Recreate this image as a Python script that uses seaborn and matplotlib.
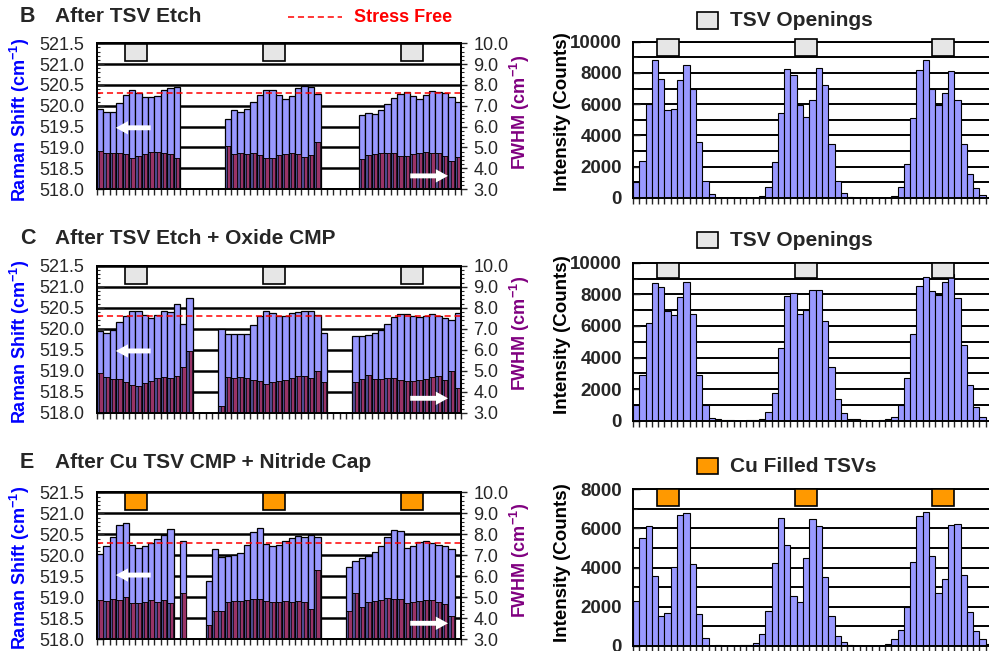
import numpy as np
import pandas as pd
import matplotlib
matplotlib.use("Agg")
import matplotlib.pyplot as plt
from matplotlib.patches import Rectangle
from matplotlib.lines import Line2D
from matplotlib.ticker import MultipleLocator, FormatStrFormatter
import seaborn as sns

nan = np.nan

# scan points along the line (57 per panel)
positions = np.arange(57)
STRESS_FREE = 520.3

# Raman shift (cm-1), NaN = no reading
raman_b = ([519.92, 519.86, 519.86, 520.06, 520.27, 520.39, 520.31, 520.22, 520.20, 520.24, 520.39, 520.42, 520.44]
           + [nan] * 7
           + [519.67, 519.89, 519.84, 519.91, 520.08, 520.25, 520.38, 520.39, 520.27, 520.17, 520.24, 520.42, 520.47, 520.46, 520.28]
           + [nan] * 6
           + [519.77, 519.83, 519.81, 519.89, 520.03, 520.18, 520.29, 520.32, 520.23, 520.17, 520.27, 520.35, 520.33, 520.30, 520.22, 520.10])
fwhm_b = ([4.83, 4.75, 4.75, 4.75, 4.67, 4.49, 4.60, 4.68, 4.78, 4.78, 4.75, 4.67, 4.50]
          + [nan] * 7
          + [5.07, 4.68, 4.72, 4.68, 4.75, 4.65, 4.50, 4.50, 4.64, 4.68, 4.75, 4.68, 4.52, 4.64, 5.27]
          + [nan] * 6
          + [4.43, 4.64, 4.67, 4.72, 4.75, 4.75, 4.60, 4.58, 4.67, 4.75, 4.78, 4.72, 4.72, 4.58, 4.33, 4.55])

raman_c = ([519.94, 519.90, 519.96, 520.16, 520.30, 520.43, 520.43, 520.33, 520.26, 520.33, 520.42, 520.40, 520.59, 520.12, 520.73]
           + [nan] * 4
           + [519.99, 519.88, 519.88, 519.88, 519.88, 520.09, 520.30, 520.43, 520.38, 520.30, 520.30, 520.37, 520.40, 520.42, 520.43, 520.33, 519.90]
           + [nan] * 4
           + [519.82, 519.82, 519.85, 519.90, 519.98, 520.12, 520.29, 520.35, 520.35, 520.30, 520.28, 520.30, 520.35, 520.30, 520.25, 520.21, 520.38])
fwhm_c = ([4.89, 4.70, 4.60, 4.60, 4.48, 4.33, 4.27, 4.41, 4.51, 4.65, 4.71, 4.67, 4.73, 5.18, 5.94]
          + [nan] * 4
          + [3.32, 4.71, 4.65, 4.71, 4.65, 4.56, 4.51, 4.38, 4.46, 4.51, 4.57, 4.65, 4.73, 4.73, 4.65, 5.00, 4.46]
          + [nan] * 4
          + [4.46, 4.60, 4.81, 4.62, 4.62, 4.65, 4.65, 4.56, 4.51, 4.51, 4.56, 4.62, 4.70, 4.75, 4.54, 4.99, 4.18])

raman_e = ([520.03, 520.21, 520.44, 520.71, 520.76, 520.25, 520.17, 520.22, 520.30, 520.40, 520.48, 520.62]
           + [nan, 520.33] + [nan] * 3
           + [519.40, 520.16, 519.95, 519.98, 520.00, 520.06, 520.25, 520.55, 520.66, 520.28, 520.21, 520.24, 520.33, 520.42, 520.47, 520.44, 520.49, 520.44]
           + [nan] * 4
           + [519.71, 519.87, 519.94, 519.98, 520.07, 520.22, 520.44, 520.60, 520.59, 520.17, 520.21, 520.32, 520.35, 520.30, 520.24, 520.21, 520.14]
           + [nan])
fwhm_e = ([4.87, 4.82, 4.92, 4.87, 5.03, 4.71, 4.71, 4.78, 4.87, 4.78, 4.87, 4.71]
          + [nan, 5.19] + [nan] * 3
          + [3.68, 4.33, 4.33, 4.76, 4.81, 4.81, 4.87, 4.92, 4.90, 4.81, 4.78, 4.78, 4.82, 4.80, 4.81, 4.80, 4.44, 6.30]
          + [nan] * 4
          + [4.35, 5.19, 4.54, 4.76, 4.84, 4.87, 4.95, 4.90, 4.90, 4.71, 4.78, 4.82, 4.86, 4.86, 4.80, 4.67, 4.11]
          + [nan])

# Si intensity (counts)
counts_b = [1000, 2350, 6000, 8800, 7600, 5650, 5700, 7550, 8500, 7000, 3600, 1100, 250,
            0, 0, 0, 0, 0, 0, 0,
            150, 700, 2300, 5450, 8250, 7900, 5950, 5200, 6300, 8300, 7200, 3450, 1100, 350, 80,
            0, 0, 0, 0, 0, 0,
            150, 700, 2200, 5150, 8200, 8800, 7000, 5950, 6700, 8150, 6250, 3450, 1550, 650, 200, 0]
counts_c = [1020, 2920, 6190, 8690, 8470, 6930, 6690, 7840, 8750, 6780, 2900, 1000, 200, 100, 60,
            20, 0, 0,
            30, 60, 130, 550, 1750, 4620, 7900, 8110, 6740, 6990, 8260, 8300, 6330, 3390, 1380, 490, 130, 90, 30,
            0, 0,
            50, 100, 250, 1000, 2690, 5490, 8500, 9110, 8240, 7970, 8750, 9260, 7760, 4810, 2270, 850, 210, 0]
counts_e = [2300, 5500, 6100, 3550, 1550, 1700, 4050, 6700, 6800, 4200, 1650, 400, 0, 50, 0, 0, 0,
            50, 70, 170, 600, 1800, 4250, 6500, 5150, 2550, 2250, 4500, 6450, 6100, 3500, 1550, 500, 200, 50,
            0, 0, 0, 0, 0,
            100, 350, 800, 2000, 4300, 6600, 6850, 4600, 2700, 3400, 6150, 6200, 3600, 1750, 750, 350, 100]

# TSV locations along the scan
tsv_left = [5.6, 27.2, 48.8]
tsv_right = [5.0, 27.0, 48.7]

BLUE = '#9999FF'
NAVY = '#4A4A8E'
RED = '#993366'
GRAY = '#E6E6E6'
ORANGE = '#FF9900'

sns.set_style("white")
plt.rcParams['font.family'] = ['Liberation Sans', 'DejaVu Sans']
plt.rcParams['mathtext.fontset'] = 'custom'
plt.rcParams['mathtext.rm'] = 'Liberation Sans'
plt.rcParams['mathtext.bf'] = 'Liberation Sans:bold'
plt.rcParams['mathtext.it'] = 'Liberation Sans:italic'

W, H = 989, 651
fig = plt.figure(figsize=(W / 100, H / 100), dpi=100)


def fx(x):
    return x / W


def fy(y):
    return 1 - y / H


def draw_left(rect, raman, fwhm, tsv_color, arrow_left_y, arrow_right_y):
    ax = fig.add_axes(rect)
    df = pd.DataFrame({'pos': positions, 'raman': raman, 'fwhm': fwhm})
    df['pos_red'] = df['pos'] + 0.12
    sns.barplot(data=df, x='pos', y='raman', native_scale=True, width=1.0, color=BLUE,
                edgecolor='black', linewidth=0.9, saturation=1, errorbar=None, ax=ax)
    ax.axhline(STRESS_FREE, color='red', ls=(0, (4, 2.5)), lw=1.1, zorder=5)
    ax.set_ylim(518.0, 521.5)
    ax.set_yticks(np.arange(518.0, 521.51, 0.5))
    ax.yaxis.set_major_formatter(FormatStrFormatter('%.1f'))
    ax.yaxis.set_minor_locator(MultipleLocator(0.1))
    ax.yaxis.grid(True, which='major', color='black', lw=1.8)
    ax.set_axisbelow(True)
    ax.tick_params(axis='y', which='major', direction='in', length=5, width=1, labelsize=13, pad=9)
    ax.tick_params(axis='y', which='minor', direction='in', length=2.5, width=0.8, left=True)
    for x in tsv_left:
        ax.add_patch(Rectangle((x - 1.75, 521.07), 3.5, 0.41, fc=tsv_color, ec='black', lw=1.2, zorder=6))

    ax2 = ax.twinx()
    sns.barplot(data=df, x='pos', y='fwhm', native_scale=True, width=1.0, color=NAVY,
                edgecolor='black', linewidth=0.7, saturation=1, errorbar=None, ax=ax2)
    sns.barplot(data=df, x='pos_red', y='fwhm', native_scale=True, width=0.52, color=RED,
                edgecolor='black', linewidth=0.5, saturation=1, errorbar=None, ax=ax2)
    ax2.set_ylim(3.0, 10.0)
    ax2.set_yticks(np.arange(3.0, 10.01, 1.0))
    ax2.yaxis.set_major_formatter(FormatStrFormatter('%.1f'))
    ax2.yaxis.set_minor_locator(MultipleLocator(0.2))
    ax2.tick_params(axis='y', which='major', direction='out', length=4, width=1, labelsize=13, pad=5)
    ax2.tick_params(axis='y', which='minor', direction='out', length=2.5, width=0.8, right=True)

    for a in (ax, ax2):
        a.set_xlim(-0.5, 56.5)
        a.set_xlabel('')
        a.set_ylabel('')
        for s in a.spines.values():
            s.set_color('black')
            s.set_linewidth(1.4)
    ax.set_xticks(np.arange(-0.5, 57, 1))
    ax.set_xticklabels([])
    ax.tick_params(axis='x', direction='out', length=4, width=1, bottom=True)

    arrow = dict(arrowstyle='simple,head_width=0.6,head_length=0.55,tail_width=0.22',
                 fc='white', ec='none', mutation_scale=16)
    ax2.annotate('', xy=(0.044, arrow_left_y), xytext=(0.155, arrow_left_y),
                 xycoords='axes fraction', arrowprops=arrow, zorder=10)
    ax2.annotate('', xy=(0.972, arrow_right_y), xytext=(0.853, arrow_right_y),
                 xycoords='axes fraction', arrowprops=arrow, zorder=10)
    return ax


def draw_right(rect, counts, ymax, tsv_color, sq_bottom, sq_height):
    ax = fig.add_axes(rect)
    df = pd.DataFrame({'pos': positions, 'counts': counts})
    sns.barplot(data=df, x='pos', y='counts', native_scale=True, width=1.0, color=BLUE,
                edgecolor='black', linewidth=0.8, saturation=1, errorbar=None, ax=ax)
    ax.set_ylim(0, ymax)
    ax.set_xlim(-0.5, 56.5)
    ax.yaxis.set_major_locator(MultipleLocator(2000))
    ax.yaxis.set_minor_locator(MultipleLocator(1000))
    ax.yaxis.grid(True, which='both', color='black', lw=1.4)
    ax.set_axisbelow(True)
    ax.set_xticks(np.arange(-0.5, 57, 1))
    ax.set_xticklabels([])
    ax.tick_params(axis='x', direction='out', length=4, width=1, bottom=True)
    ax.tick_params(axis='y', which='major', direction='in', length=5, width=1, labelsize=13.5, pad=8, left=True)
    ax.tick_params(axis='y', which='minor', direction='in', length=3, width=0.8, left=True)
    for lab in ax.get_yticklabels():
        lab.set_fontweight('bold')
    ax.set_xlabel('')
    ax.set_ylabel('')
    ax.spines['right'].set_visible(False)
    for s in ('left', 'top', 'bottom'):
        ax.spines[s].set_color('black')
        ax.spines[s].set_linewidth(1.4)
    for x in tsv_right:
        ax.add_patch(Rectangle((x - 1.75, sq_bottom), 3.5, sq_height, fc=tsv_color, ec='black',
                               lw=1.2, zorder=6, clip_on=False))
    return ax


# left panels: Raman shift + FWHM
draw_left([fx(97), fy(189), fx(364), 145.7 / H], raman_b, fwhm_b, GRAY, 0.42, 0.09)
draw_left([fx(97), fy(412.7), fx(364), 147 / H], raman_c, fwhm_c, GRAY, 0.42, 0.098)
draw_left([fx(97), fy(639.3), fx(364), 147 / H], raman_e, fwhm_e, ORANGE, 0.437, 0.109)

# right panels: intensity
draw_right([fx(633), fy(198), fx(359), 156.3 / H], counts_b, 10000, GRAY, 9080, 1090)
draw_right([fx(633), fy(420.7), fx(359), 158 / H], counts_c, 10000, GRAY, 9050, 950)
draw_right([fx(633), fy(646), fx(359), 157 / H], counts_e, 8000, ORANGE, 7150, 850)

# panel titles
titles = [('B', 'After TSV Etch', 17), ('C', 'After TSV Etch + Oxide CMP', 238),
          ('E', 'After Cu TSV CMP + Nitride Cap', 462)]
for letter, text, y in titles:
    fig.text(fx(20), fy(y), letter, fontsize=15.5, fontweight='bold', va='center', ha='left')
    fig.text(fx(55), fy(y), text, fontsize=15, fontweight='bold', va='center', ha='left')

# stress free legend
fig.add_artist(Line2D([fx(288), fx(342)], [fy(17), fy(17)], color='red', ls=(0, (4, 2.5)), lw=1.1))
fig.text(fx(354), fy(17), 'Stress Free', color='red', fontsize=13, fontweight='bold', va='center')

# right titles
right_titles = [('TSV Openings', GRAY, 20.5), ('TSV Openings', GRAY, 240), ('Cu Filled TSVs', ORANGE, 466)]
for text, col, y in right_titles:
    fig.add_artist(Rectangle((fx(697), fy(y + 8)), 21 / W, 16 / H, fc=col, ec='black', lw=1.2,
                             transform=fig.transFigure))
    fig.text(fx(730), fy(y), text, fontsize=15, fontweight='bold', va='center', ha='left')

# axis labels
for y in (120, 342, 568):
    fig.text(fx(19.5), fy(y), r'Raman Shift (cm$^{\mathbf{-1}}$)', color='#0000FF', fontsize=13,
             fontweight='bold', rotation=90, va='center', ha='center')
for y in (112, 333, 560):
    fig.text(fx(520), fy(y), r'FWHM (cm$^{\mathbf{-1}}$)', color='#800080', fontsize=13,
             fontweight='bold', rotation=90, va='center', ha='center')
for y in (112, 335, 563):
    fig.text(fx(562.5), fy(y), 'Intensity (Counts)', color='black', fontsize=13.5,
             fontweight='bold', rotation=90, va='center', ha='center')

fig.savefig('out.png', dpi=100)
